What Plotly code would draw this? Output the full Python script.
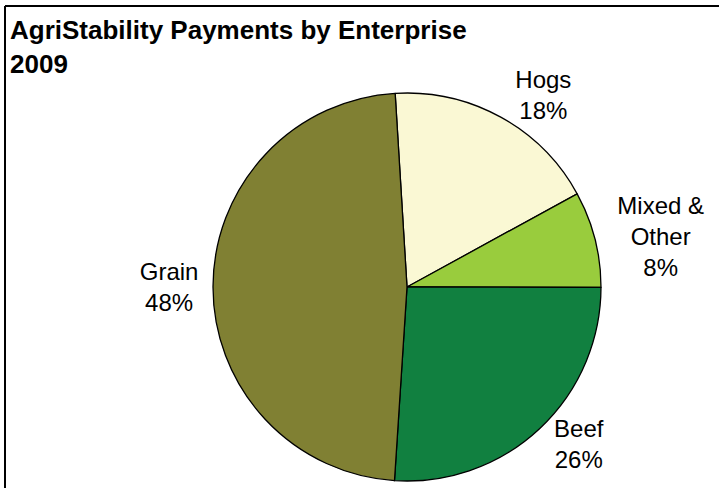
import plotly.graph_objects as go

categories = ["Hogs", "Mixed & Other", "Beef", "Grain"]
display_labels = ["Hogs", "Mixed &<br>Other", "Beef", "Grain"]
shares = [18, 8, 26, 48]
colors = ["#FAF8D4", "#99CC3D", "#118040", "#808033"]

W, H = 719, 488
cx, cy, r = 407, 287, 194

fig = go.Figure(go.Pie(
    labels=categories,
    values=shares,
    text=display_labels,
    sort=False,
    direction="clockwise",
    rotation=-3.5,
    marker=dict(colors=colors, line=dict(color="black", width=1.3)),
    textposition="outside",
    texttemplate="%{text}<br>%{percent:.0%}",
    textfont=dict(family="Liberation Sans, Arial", size=24, color="black"),
    showlegend=False,
    domain=dict(x=[(cx - r) / W, (cx + r) / W], y=[(H - cy - r) / H, (H - cy + r) / H]),
    hoverinfo="label+percent",
))

fig.update_layout(
    width=W, height=H,
    margin=dict(l=0, r=0, t=0, b=0),
    paper_bgcolor="white",
    plot_bgcolor="white",
    annotations=[dict(
        text="<b>AgriStability Payments by Enterprise<br>2009</b>",
        x=8 / W, y=1 - 13 / H, xref="paper", yref="paper",
        xanchor="left", yanchor="top", align="left", showarrow=False,
        font=dict(family="Liberation Sans, Arial", size=26, color="black"),
    )],
    shapes=[
        dict(type="line", xref="paper", yref="paper", x0=5 / W, x1=1.0, y0=1 - 6 / H, y1=1 - 6 / H,
             line=dict(color="black", width=2)),
        dict(type="line", xref="paper", yref="paper", x0=5 / W, x1=5 / W, y0=1 - 6 / H, y1=0,
             line=dict(color="black", width=2)),
    ],
)

fig.write_html("out.html")
